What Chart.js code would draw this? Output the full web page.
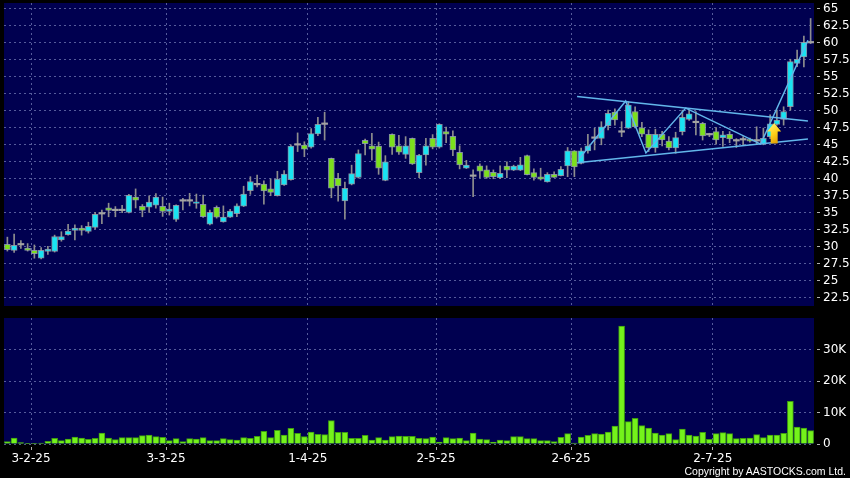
<!DOCTYPE html>
<html>
<head>
<meta charset="utf-8">
<script src="https://cdn.jsdelivr.net/npm/chart.js@4.4.1/dist/chart.umd.min.js"></script>
<style>
  html, body { margin: 0; padding: 0; background: #000; }
  #wrap { position: relative; width: 850px; height: 478px; overflow: hidden; background: #000; }
  canvas { position: absolute; left: 0; }
  #priceChart { top: 0; }
  #volChart { top: 310px; }
  #copy { position: absolute; right: 4px; top: 465px; color: #fff; font: 10.5px "Liberation Sans", sans-serif; line-height: 12px; }
</style>
</head>
<body>
<div id="wrap">
  <canvas id="priceChart" width="850" height="310"></canvas>
  <canvas id="volChart" width="850" height="168"></canvas>
  <div id="copy">Copyright by AASTOCKS.com Ltd.</div>
</div>
<script>
// daily candles
const opens = [30.35,29.45,30.25,29.8,29.45,28.3,29.3,29.3,31.0,31.75,
  32.4,32.75,32.25,32.85,34.8,35.7,35.3,35.3,35.05,37.3,
  35.95,35.8,36.1,35.95,35.2,34.0,36.7,36.7,36.35,36.25,
  33.3,35.8,33.65,34.35,34.85,35.95,38.25,39.1,39.2,38.5,
  37.5,39.1,39.85,44.95,44.95,44.65,46.6,48.0,43.0,40.05,
  36.75,39.2,40.2,45.65,44.85,44.8,39.75,46.55,44.85,43.6,
  45.95,40.9,43.5,45.95,44.65,46.95,46.25,43.9,41.55,40.35,
  41.9,41.3,40.95,40.15,41.85,41.25,41.25,43.4,40.9,40.3,
  39.55,40.65,40.45,41.9,44.1,42.25,44.1,45.95,45.95,47.8,
  49.8,46.85,47.45,49.9,47.5,46.55,44.55,46.55,45.55,44.55,
  46.95,48.75,48.25,48.15,46.45,46.95,46.05,46.55,45.55,45.7,
  45.85,45.55,45.1,46.2,48.0,48.75,50.6,57.0,57.95,60.0];
const highs = [31.4,31.85,30.9,30.45,30.25,29.85,30.05,31.7,32.2,33.3,
  33.2,33.1,33.6,35.05,35.4,36.4,35.9,36.1,37.7,38.5,
  36.2,37.5,37.8,37.3,36.4,36.15,37.1,37.85,37.75,37.6,
  35.4,36.0,36.0,35.5,36.3,38.9,40.3,40.55,39.7,40.0,
  41.1,41.2,45.0,46.75,45.45,47.4,49.05,49.8,43.05,40.8,
  39.5,42.0,44.25,45.85,46.7,45.4,43.4,46.6,46.4,46.2,
  46.0,43.6,45.95,46.5,48.1,47.6,47.05,44.85,42.7,41.3,
  42.2,41.9,41.3,41.9,42.5,42.0,43.15,43.5,41.45,41.55,
  40.9,41.0,41.8,44.6,44.15,44.5,46.55,47.45,48.4,50.1,
  50.3,48.4,51.35,50.6,48.3,47.2,47.3,47.0,46.2,46.85,
  50.1,50.1,49.9,48.3,46.7,47.55,47.0,46.95,45.9,46.2,
  46.0,47.65,47.45,49.4,50.1,50.6,57.6,58.95,61.0,63.6];
const lows = [29.35,29.15,29.75,29.35,28.3,28.2,28.85,29.2,30.8,31.7,
  31.0,31.7,32.0,32.6,33.4,34.4,34.4,35.0,34.95,35.7,
  34.4,35.05,35.65,34.45,34.65,33.7,35.4,36.0,35.65,34.3,
  33.2,34.2,33.6,34.3,34.4,35.9,37.7,38.8,36.25,37.5,
  37.45,39.0,39.8,44.0,43.25,44.5,46.35,45.7,37.2,36.7,
  34.05,39.1,40.1,43.5,42.75,40.65,39.7,43.6,43.6,43.0,
  42.1,40.15,42.0,44.4,44.5,45.3,43.4,41.45,41.5,37.35,
  40.15,40.05,40.0,40.0,40.15,41.2,41.2,40.55,39.8,39.8,
  39.5,40.2,40.4,40.3,40.3,42.2,43.75,44.25,45.0,47.2,
  47.9,46.2,47.4,47.5,46.2,44.0,43.9,44.85,44.25,43.75,
  46.45,48.6,46.45,45.7,46.2,45.1,44.75,45.3,44.6,44.9,
  45.4,45.05,45.0,45.9,47.9,47.9,50.1,56.5,56.45,59.9];
const closes = [29.55,30.2,30.25,29.45,28.95,29.45,29.65,31.5,31.5,32.3,
  32.75,32.4,33.0,34.75,34.8,35.35,35.3,35.3,37.55,36.85,
  35.35,36.55,37.3,35.2,35.55,36.1,36.7,36.7,36.6,34.4,
  35.05,34.35,34.35,35.25,36.0,37.75,39.6,39.1,38.2,38.0,
  39.95,40.7,44.8,44.95,44.35,46.65,48.0,48.0,38.6,38.95,
  38.6,40.75,43.7,45.15,44.35,41.55,42.5,44.65,43.9,44.85,
  42.2,43.5,44.85,44.65,48.0,46.55,44.25,42.05,42.0,40.35,
  41.1,40.2,40.3,40.8,41.25,41.85,42.05,40.6,40.2,39.95,
  40.65,40.2,41.4,44.1,41.75,44.1,44.85,45.95,47.65,49.65,
  48.65,46.85,50.85,47.65,46.55,44.55,46.55,45.7,44.55,46.05,
  49.05,49.55,48.25,46.3,46.45,45.7,46.45,45.85,45.55,45.7,
  45.55,45.55,45.95,48.1,48.65,49.9,57.25,57.6,60.1,60.0];
const volumes = [750,1900,420,100,200,300,850,1800,1060,1590,
  2230,1900,1480,1800,3500,1900,1380,2000,2000,2000,
  2650,2860,2330,2120,1060,1700,740,1700,1590,2000,
  1060,1060,1700,1380,1270,2000,1800,2440,4030,2000,
  4350,2860,4980,3390,2330,3820,3070,2970,7420,3710,
  3710,1800,1800,2760,1270,2000,1270,2330,2540,2440,
  2440,1800,1700,2230,640,2010,1700,1900,1060,3500,
  1590,1380,640,1270,1060,2330,2330,1700,1700,1060,
  1060,740,2120,3290,320,2230,2760,3290,3180,3820,
  5720,37400,7100,8160,5830,5090,3500,2860,3290,1380,
  4770,2860,2540,3710,1480,3290,3600,3290,1700,1800,
  1900,2970,2010,2860,2860,3390,13570,5400,5090,4240];

const monthStart = [4, 24, 45, 64, 84, 105];
const monthLabels = ['3-2-25', '3-3-25', '1-4-25', '2-5-25', '2-6-25', '2-7-25'];
const priceTicks = [22.5, 25, 27.5, 30, 32.5, 35, 37.5, 40, 42.5, 45, 47.5, 50, 52.5, 55, 57.5, 60, 62.5, 65];
const volTicks = [0, 10000, 20000, 30000];

// drawn pattern lines (index, price)
const triUpper = [{x: 84.4, y: 52.1}, {x: 118.6, y: 48.5}];
const triLower = [{x: 84.4, y: 42.35}, {x: 118.6, y: 45.85}];
const zigzag = [{x: 84.8, y: 43.05}, {x: 91.6, y: 51.45}, {x: 94.6, y: 43.8},
  {x: 100.5, y: 50.4}, {x: 111.6, y: 45.1}, {x: 118.6, y: 60.4}];
const arrowMark = {x: 113.6, top: 48.2, bottom: 45.2};

const NAVY = '#000050';
const gridColor = 'rgba(130,140,195,0.65)';
const lineColor = '#62b6ea';
const tickFont = {family: 'DejaVu Sans', size: 12};

const idx = opens.map((_, i) => i);
const wickData = idx.map(i => ({x: i, y: [lows[i], highs[i]]}));
const bodyData = idx.map(i => ({x: i, y: [Math.min(opens[i], closes[i]), Math.max(opens[i], closes[i])]}));
const volData = idx.map(i => ({x: i, y: volumes[i]}));

function candleColor(i) {
    if (closes[i] > opens[i]) return '#19e3f2';
    if (closes[i] < opens[i]) return '#7ce01c';
    return '#a3a3a3';
}

const navyBg = {
    id: 'navyBg',
    beforeDraw(chart) {
        const a = chart.chartArea;
        const ctx = chart.ctx;
        ctx.save();
        ctx.fillStyle = NAVY;
        ctx.fillRect(a.left, a.top, a.right - a.left, a.bottom - a.top);
        ctx.restore();
    }
};

const upArrow = {
    id: 'upArrow',
    afterDatasetsDraw(chart) {
        const xs = chart.scales.x, ys = chart.scales.y, ctx = chart.ctx;
        const cx = xs.getPixelForValue(arrowMark.x);
        const top = ys.getPixelForValue(arrowMark.top);
        const bot = ys.getPixelForValue(arrowMark.bottom);
        const headH = 8.5, headW = 7, shaftW = 3.5;
        const g = ctx.createLinearGradient(cx - headW, top, cx + headW, bot);
        g.addColorStop(0, '#fff68a');
        g.addColorStop(0.5, '#ffd21a');
        g.addColorStop(1, '#d99000');
        ctx.save();
        ctx.beginPath();
        ctx.moveTo(cx, top);
        ctx.lineTo(cx + headW, top + headH);
        ctx.lineTo(cx + shaftW, top + headH);
        ctx.lineTo(cx + shaftW, bot);
        ctx.lineTo(cx - shaftW, bot);
        ctx.lineTo(cx - shaftW, top + headH);
        ctx.lineTo(cx - headW, top + headH);
        ctx.closePath();
        ctx.fillStyle = g;
        ctx.fill();
        ctx.restore();
    }
};

function monthAxis(showLabels) {
    return {
        type: 'linear',
        min: -0.5,
        max: opens.length - 0.5,
        offset: false,
        afterBuildTicks: s => { s.ticks = monthStart.map(i => ({value: i - 0.5})); },
        afterFit: s => { s.height = showLabels ? 34 : 0; s.paddingLeft = 0; s.paddingRight = 0; },
        grid: {offset: false, color: gridColor, drawTicks: showLabels, tickLength: 6, tickColor: '#b0b0b0', tickBorderDash: [0, 3, 3, 50]},
        border: {display: false, dash: [2, 3]},
        ticks: {
            display: showLabels, color: '#fff', font: tickFont, padding: 2,
            maxRotation: 0, autoSkip: false,
            callback: (v, k) => monthLabels[k]
        }
    };
}

function rightAxis(min, max, tickVals, fmt) {
    return {
        position: 'right',
        min: min,
        max: max,
        afterBuildTicks: s => { s.ticks = tickVals.map(v => ({value: v})); },
        // keep the plot area where the panel is, labels may hang over
        afterFit: s => { s.width = 36; s.paddingTop = 0; s.paddingBottom = 0; },
        grid: {color: gridColor, tickColor: '#b0b0b0', tickLength: 6, tickBorderDash: [0, 3, 3, 50]},
        border: {display: false, dash: [2, 3]},
        ticks: {color: '#fff', font: tickFont, padding: 3, autoSkip: false, callback: fmt}
    };
}

Chart.defaults.animation = false;

new Chart(document.getElementById('priceChart'), {
    type: 'bar',
    data: {
        datasets: [
            {type: 'line', data: triUpper, borderColor: lineColor, borderWidth: 1.5, pointRadius: 0, order: 0},
            {type: 'line', data: triLower, borderColor: lineColor, borderWidth: 1.5, pointRadius: 0, order: 0},
            {type: 'line', data: zigzag, borderColor: lineColor, borderWidth: 1.5, pointRadius: 0, order: 0},
            {
                data: bodyData,
                backgroundColor: c => candleColor(c.dataIndex),
                borderColor: 'rgba(150,165,175,0.85)',
                borderWidth: c => (opens[c.dataIndex] === closes[c.dataIndex] ? 0 : 1),
                borderSkipped: false,
                barThickness: 6,
                minBarLength: 1.5,
                grouped: false,
                order: 1
            },
            {
                data: wickData,
                backgroundColor: '#8e8e8e',
                borderWidth: 0,
                barThickness: 1,
                grouped: false,
                order: 2
            }
        ]
    },
    options: {
        responsive: false,
        layout: {padding: {left: 4, top: 3, right: 0, bottom: 4}},
        plugins: {legend: {display: false}, tooltip: {enabled: false}},
        scales: {
            x: monthAxis(false),
            y: rightAxis(21.26, 65.88, priceTicks, v => String(v))
        }
    },
    plugins: [navyBg, upArrow]
});

new Chart(document.getElementById('volChart'), {
    type: 'bar',
    data: {
        datasets: [{
            data: volData,
            backgroundColor: '#74f21b',
            borderColor: '#3e9c10',
            borderWidth: 1,
            barThickness: 6,
            grouped: false
        }]
    },
    options: {
        responsive: false,
        layout: {padding: {left: 4, top: 8, right: 0, bottom: 0}},
        plugins: {legend: {display: false}, tooltip: {enabled: false}},
        scales: {
            x: monthAxis(true),
            y: rightAxis(0, 40000, volTicks, v => (v === 0 ? '0' : (v / 1000) + 'K'))
        }
    },
    plugins: [navyBg]
});
</script>
</body>
</html>
